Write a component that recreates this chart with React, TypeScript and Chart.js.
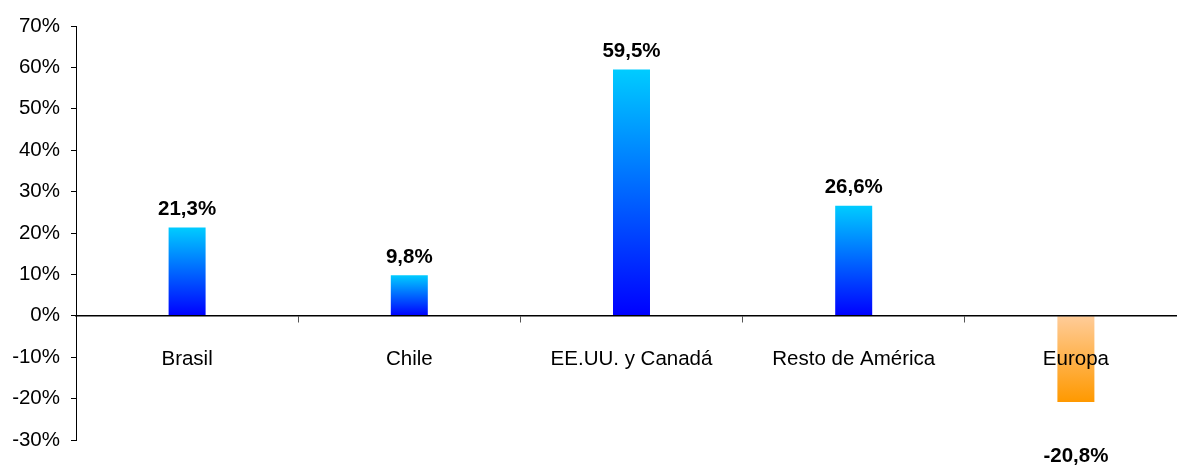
import React, { useEffect, useRef } from "react";
import { Chart, registerables } from "chart.js";

Chart.register(...registerables);

const categories = ["Brasil", "Chile", "EE.UU. y Canadá", "Resto de América", "Europa"];
const values = [21.3, 9.8, 59.5, 26.6, -20.8];
const valueLabels = ["21,3%", "9,8%", "59,5%", "26,6%", "-20,8%"];
const yMin = -30;
const yMax = 70;
const yStep = 10;

const FONT = "'Liberation Sans', Arial, sans-serif";

const labelPlugin = {
  id: "valueLabels",
  afterDatasetsDraw(chart: any) {
    const ctx = chart.ctx;
    const meta = chart.getDatasetMeta(0);
    ctx.save();
    ctx.font = `bold 20.5px ${FONT}`;
    ctx.fillStyle = "#000";
    ctx.textAlign = "center";
    ctx.textBaseline = "middle";
    meta.data.forEach((bar: any, i: number) => {
      const v = values[i];
      const y = v >= 0 ? bar.y - 18 : bar.y + 54;
      ctx.fillText(valueLabels[i], bar.x, y);
    });
    ctx.restore();
  },
};

export default function App() {
  const ref = useRef<HTMLCanvasElement>(null);
  useEffect(() => {
    if (!ref.current) return;
    const chart = new Chart(ref.current, {
      type: "bar",
      data: {
        labels: categories,
        datasets: [
          {
            data: values,
            categoryPercentage: 1,
            barPercentage: 0.1665,
            backgroundColor: (c: any) => {
              const ch = c.chart;
              const ys = ch.scales?.y;
              if (!ys || c.dataIndex === undefined) return "#00f";
              const v = values[c.dataIndex];
              const p0 = ys.getPixelForValue(0);
              const p1 = ys.getPixelForValue(v);
              if (!isFinite(p0) || !isFinite(p1) || p0 === p1) return "#00f";
              const g = ch.ctx.createLinearGradient(0, p1, 0, p0);
              if (v >= 0) {
                g.addColorStop(0, "#00CCFF");
                g.addColorStop(1, "#0000FF");
              } else {
                g.addColorStop(0, "#FF9900");
                g.addColorStop(1, "#FFCC99");
              }
              return g;
            },
            borderWidth: 0,
          },
        ],
      },
      options: {
        animation: false,
        responsive: false,
        devicePixelRatio: 1,
        layout: { padding: { top: 26, bottom: 26, left: 0, right: 3 } },
        plugins: { legend: { display: false }, tooltip: { enabled: false } },
        scales: {
          x: {
            position: { y: 0 } as any,
            grid: {
              display: true,
              offset: true,
              drawOnChartArea: false,
              drawTicks: true,
              tickLength: 6,
              color: "#555",
            },
            border: { display: true, color: "#000", width: 1.5, z: 1 },
            ticks: { color: "#000", font: { family: FONT, size: 20.5 }, padding: 25, z: 1 },
          },
          y: {
            min: yMin,
            max: yMax,
            afterFit: (s: any) => {
              s.width = 76;
            },
            grid: { drawOnChartArea: false, tickLength: 5, color: "#000" },
            border: { display: true, color: "#000", width: 1 },
            ticks: {
              stepSize: yStep,
              color: "#000",
              padding: 11,
              font: { family: FONT, size: 20.5 },
              callback: (v: any) => `${v}%`,
            },
          },
        },
      },
      plugins: [labelPlugin],
    });
    return () => chart.destroy();
  }, []);
  return (
    <div style={{ position: "fixed", left: 0, top: 0, width: 1177, height: 466, overflow: "hidden", background: "#fff" }}>
      <canvas ref={ref} width={1190} height={466} style={{ display: "block" }} />
    </div>
  );
}
